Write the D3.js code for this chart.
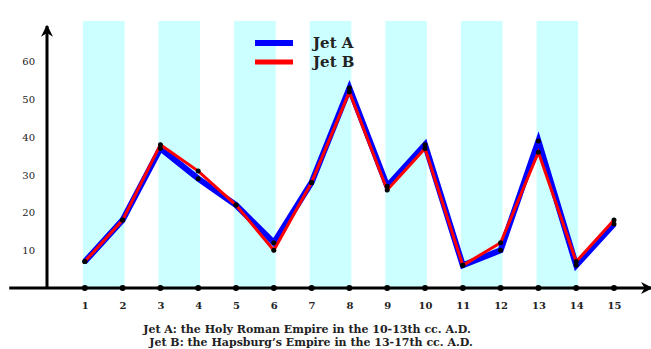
<!DOCTYPE html>
<html>
<head>
<meta charset="utf-8">
<script src="https://cdn.jsdelivr.net/npm/d3@7"></script>
<style>
  body { margin: 0; background: #fff; }
  svg text { font-family: "DejaVu Serif", "Liberation Serif", serif; fill: #222; }
  .x-axis text { font-weight: bold; font-size: 10px; }
  .y-axis text { font-size: 10px; }
  .legend text { font-weight: bold; font-size: 15px; }
  .caption { font-weight: bold; font-size: 11px; }
</style>
</head>
<body>
<div id="chart"></div>
<script>
// Data
var categories = [1, 2, 3, 4, 5, 6, 7, 8, 9, 10, 11, 12, 13, 14, 15];
var jetA = [7, 18, 37, 29, 22, 12, 28, 53, 27, 38, 6, 10, 39, 6, 17];
var jetB = [7, 18, 38, 31, 22, 10, 28, 52, 26, 37, 6, 12, 36, 7, 18];
var yTicks = [10, 20, 30, 40, 50, 60];
var bands = [[1, 2], [3, 4], [5, 6], [7, 8], [9, 10], [11, 12], [13, 14]];
var seriesNames = ["Jet A", "Jet B"];
var captionLines = [
  "Jet A: the Holy Roman Empire in the 10-13th cc. A.D.",
  "Jet B: the Hapsburg\u2019s Empire in the 13-17th cc. A.D."
];

var width = 651, height = 349;

var xScale = d3.scaleLinear().domain([0, 15]).range([47, 614]);
var yScale = d3.scaleLinear().domain([0, 70]).range([288, 24]);

var svg = d3.select("#chart").append("svg")
  .attr("width", width)
  .attr("height", height);

// arrow head
svg.append("defs").append("marker")
  .attr("id", "arrow")
  .attr("viewBox", "0 0 10 10")
  .attr("refX", 9).attr("refY", 5)
  .attr("markerWidth", 4).attr("markerHeight", 4)
  .attr("orient", "auto")
  .append("path")
  .attr("d", "M0,0 L10,5 L0,10 L3,5 Z")
  .attr("fill", "#000");

// cyan bands
svg.selectAll(".band")
  .data(bands)
  .enter().append("rect")
  .attr("class", "band")
  .attr("x", function(d) { return xScale(d[0] - 0.05); })
  .attr("y", yScale(70.8))
  .attr("width", function(d) { return xScale(d[1] + 0.05) - xScale(d[0] - 0.05); })
  .attr("height", yScale(-0.5) - yScale(70.8))
  .attr("fill", "#ccffff");

// axes lines
svg.append("line")
  .attr("x1", xScale(-1)).attr("y1", yScale(0))
  .attr("x2", xScale(16)).attr("y2", yScale(0))
  .attr("stroke", "#000").attr("stroke-width", 3)
  .attr("marker-end", "url(#arrow)");
svg.append("line")
  .attr("x1", xScale(0)).attr("y1", yScale(0))
  .attr("x2", xScale(0)).attr("y2", yScale(69.5))
  .attr("stroke", "#000").attr("stroke-width", 3)
  .attr("marker-end", "url(#arrow)");

// tick labels
var xAxis = svg.append("g")
  .attr("class", "x-axis")
  .attr("transform", "translate(0," + yScale(0) + ")")
  .call(d3.axisBottom(xScale).tickValues(categories).tickSize(0).tickPadding(14).tickFormat(d3.format("d")));
xAxis.select(".domain").remove();

var yAxis = svg.append("g")
  .attr("class", "y-axis")
  .attr("transform", "translate(" + (xScale(0) - 12) + ",0)")
  .call(d3.axisLeft(yScale).tickValues(yTicks).tickSize(0).tickPadding(0));
yAxis.select(".domain").remove();

// dots on the x axis
svg.selectAll(".axis-dot")
  .data(categories)
  .enter().append("circle")
  .attr("cx", function(d) { return xScale(d); })
  .attr("cy", yScale(0))
  .attr("r", 3)
  .attr("fill", "#000");

var line = d3.line()
  .x(function(d, i) { return xScale(categories[i]); })
  .y(function(d) { return yScale(d); });

svg.append("path")
  .datum(jetA)
  .attr("d", line)
  .attr("fill", "none")
  .attr("stroke", "#0000ff")
  .attr("stroke-width", 6)
  .attr("stroke-linejoin", "miter");

svg.append("path")
  .datum(jetB)
  .attr("d", line)
  .attr("fill", "none")
  .attr("stroke", "#ff0000")
  .attr("stroke-width", 3)
  .attr("stroke-linejoin", "miter");

[jetA, jetB].forEach(function(series) {
  svg.selectAll(null)
    .data(series)
    .enter().append("circle")
    .attr("cx", function(d, i) { return xScale(categories[i]); })
    .attr("cy", function(d) { return yScale(d); })
    .attr("r", 2.5)
    .attr("fill", "#000");
});

// legend
var legend = svg.append("g").attr("class", "legend");
var legendColors = ["#0000ff", "#ff0000"];
var legendWidths = [6, 5];
seriesNames.forEach(function(name, i) {
  var ly = 43 + i * 19;
  legend.append("line")
    .attr("x1", 255).attr("x2", 293)
    .attr("y1", ly).attr("y2", ly)
    .attr("stroke", legendColors[i])
    .attr("stroke-width", legendWidths[i]);
  legend.append("text")
    .attr("x", 313).attr("y", ly + 5)
    .text(name);
});

// caption
svg.selectAll(".caption")
  .data(captionLines)
  .enter().append("text")
  .attr("class", "caption")
  .attr("x", function(d, i) { return i === 0 ? 307 : 311; })
  .attr("y", function(d, i) { return 333 + i * 13; })
  .attr("text-anchor", "middle")
  .text(function(d) { return d; });
</script>
</body>
</html>
